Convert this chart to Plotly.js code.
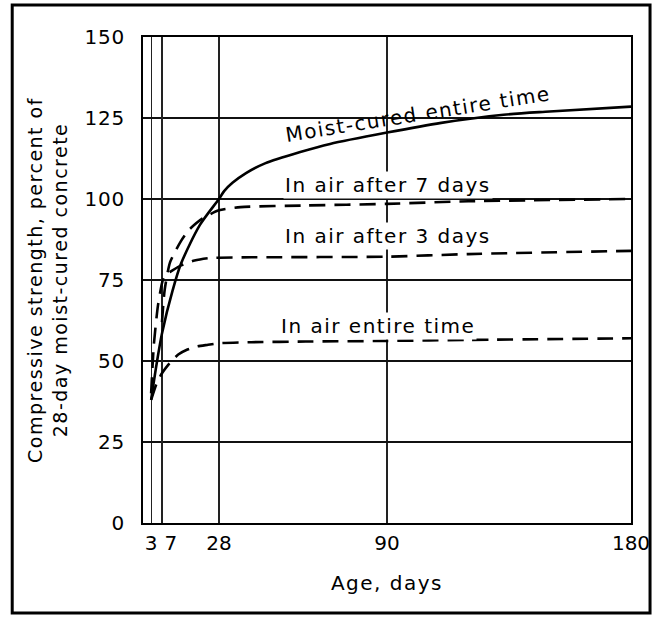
<!DOCTYPE html>
<html>
<head>
<meta charset="utf-8">
<script src="https://cdn.plot.ly/plotly-3.0.1.min.js"></script>
<style>
html,body{margin:0;padding:0;background:#fff;}
.annotation-text, .xtitle, .ytitle { letter-spacing: 1.5px; }
.ytick text { letter-spacing: 0.8px; }
</style>
</head>
<body>
<div id="chart" style="width:655px;height:617px;"></div>
<script>
// Age (days) and compressive strength (% of 28-day moist-cured concrete)
const moistAge = [3, 5, 7, 11, 14, 21, 28, 30, 33, 38, 45, 58, 69, 90, 110, 133, 150, 180];
const moistStr = [38, 49, 58.5, 72, 80, 92, 100, 102.5, 105, 108, 111, 114.5, 117, 120.5, 123.5, 126, 127, 128.5];

const air7Age = [7, 8, 10, 14, 17, 22, 28, 36, 60, 90, 120, 180];
const air7Str = [62, 72, 80.5, 87, 90.5, 94, 96.5, 97.5, 98, 98.5, 99.3, 100];

const air3Age = [3, 4, 5.5, 7, 8, 10, 14, 19, 25, 40, 90, 120, 180];
const air3Str = [40, 55, 67, 74, 76.5, 77.5, 79.5, 81, 81.8, 82, 82.2, 83, 84];

const airAllAge = [3, 5, 7, 10, 13, 16, 20, 24, 28, 40, 60, 90, 120, 180];
const airAllStr = [38, 43, 46.2, 49.5, 52, 53.4, 54.5, 55, 55.5, 55.8, 56, 56.2, 56.5, 57];

// x ticks: main axis, plus the crowded "7" tick on an overlaid twin axis (same scale)
const xTickVals = [3, 28, 90, 180];
const xTickText = ["3", "28", "90", "180"];
const xTickVals2 = [7];
const xTickText2 = ["7"];
const yTickVals = [0, 25, 50, 75, 100, 125, 150];
const yTickText = ["0", "25", "50", "75", "100", "125", "150"];

const seriesLabels = ["Moist-cured entire time", "In air after 7 days", "In air after 3 days", "In air entire time"];

const FONT = "DejaVu Sans, sans-serif";
const lineW = 2.6;
const dashPat = "16px,9px";

const traces = [
  {x: moistAge, y: moistStr, name: seriesLabels[0], mode: "lines", xaxis: "x2", yaxis: "y",
   line: {color: "#000", width: lineW, shape: "spline", smoothing: 0.8}},
  {x: air7Age, y: air7Str, name: seriesLabels[1], mode: "lines",
   line: {color: "#000", width: lineW, dash: dashPat, shape: "spline", smoothing: 0.6}},
  {x: air3Age, y: air3Str, name: seriesLabels[2], mode: "lines",
   line: {color: "#000", width: lineW, dash: dashPat, shape: "spline", smoothing: 0.6}},
  {x: airAllAge, y: airAllStr, name: seriesLabels[3], mode: "lines",
   line: {color: "#000", width: lineW, dash: dashPat, shape: "spline", smoothing: 0.6}}
];

const labelFont = {family: FONT, size: 20, color: "#000"};
const tickFont = {family: FONT, size: 20, color: "#000"};

const layout = {
  width: 655, height: 617,
  margin: {l: 143, r: 24, t: 37, b: 94, pad: 0},
  paper_bgcolor: "#fff", plot_bgcolor: "#fff",
  showlegend: false,
  font: {family: FONT, color: "#000"},
  xaxis: {
    range: [0, 180], tickvals: xTickVals, ticktext: xTickText, tickangle: 0,
    showgrid: true, gridcolor: "#222", gridwidth: 1.2,
    zeroline: false, showline: true, linecolor: "#000", linewidth: 2, mirror: true,
    ticks: "", ticklabelstandoff: 1,
    tickfont: tickFont,
    title: {text: "Age, days", font: {family: FONT, size: 20, color: "#000"}, standoff: 22},
    fixedrange: true
  },
  xaxis2: {
    overlaying: "x", anchor: "y", side: "bottom",
    range: [0, 180], tickvals: xTickVals2, ticktext: xTickText2, tickangle: 0,
    showgrid: true, gridcolor: "#222", gridwidth: 1.2,
    zeroline: false, showline: false,
    ticks: "", ticklabelstandoff: 6, ticklabelshift: 9,
    tickfont: tickFont,
    fixedrange: true
  },
  yaxis: {
    range: [0, 150], tickvals: yTickVals, ticktext: yTickText,
    showgrid: true, gridcolor: "#111", gridwidth: 1.6,
    zeroline: false, showline: true, linecolor: "#000", linewidth: 2, mirror: true,
    ticks: "", ticklabelstandoff: 12,
    tickfont: tickFont,
    title: {text: "Compressive strength, percent of<br>28-day moist-cured concrete",
            font: {family: FONT, size: 19, color: "#000"}, standoff: 12},
    fixedrange: true
  },
  annotations: [
    {x: 101.5, y: 126.3, xref: "x", yref: "y", text: seriesLabels[0], showarrow: false,
     textangle: -9, font: labelFont},
    {x: 90.5, y: 104.3, xref: "x", yref: "y", text: seriesLabels[1], showarrow: false,
     font: labelFont, bgcolor: "#fff", borderpad: 1},
    {x: 90.5, y: 88.6, xref: "x", yref: "y", text: seriesLabels[2], showarrow: false,
     font: labelFont, bgcolor: "#fff", borderpad: 1},
    {x: 86.5, y: 60.8, xref: "x", yref: "y", text: seriesLabels[3], showarrow: false,
     font: labelFont, bgcolor: "#fff", borderpad: 1}
  ],
  shapes: [
    {type: "rect", xref: "paper", yref: "paper", x0: -0.268, x1: 1.039, y0: -0.185, y1: 1.066,
     line: {color: "#000", width: 3}, fillcolor: "rgba(0,0,0,0)", layer: "below"}
  ]
};

Plotly.newPlot("chart", traces, layout, {staticPlot: true, displayModeBar: false});
</script>
</body>
</html>
